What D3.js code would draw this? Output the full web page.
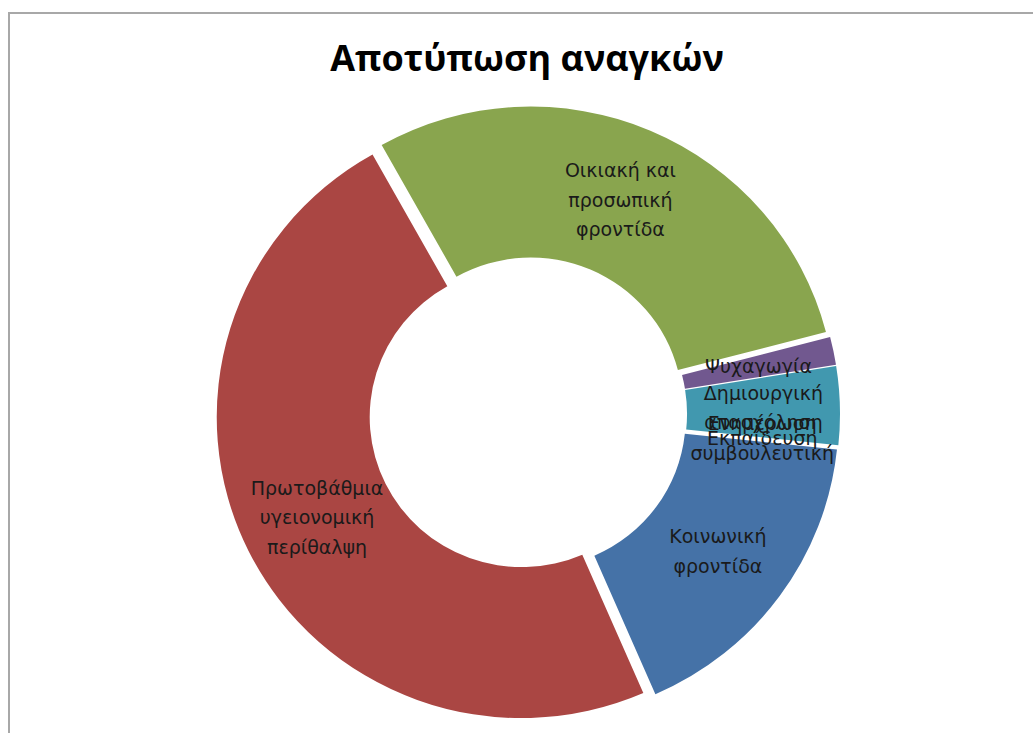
<!DOCTYPE html>
<html>
<head>
<meta charset="utf-8">
<script src="https://cdn.jsdelivr.net/npm/d3@7"></script>
<style>
  html, body { margin: 0; padding: 0; background: #ffffff; }
  svg { display: block; }
</style>
</head>
<body>
<svg id="chart" width="1033" height="733"></svg>
<script>
// ---- data ----
const title = "Αποτύπωση αναγκών";
const categories = [
  "Κοινωνική φροντίδα",
  "Πρωτοβάθμια υγειονομική περίθαλψη",
  "Οικιακή και προσωπική φροντίδα",
  "Ψυχαγωγία",
  "Δημιουργική απασχόληση",
  "Ενημέρωση συμβουλευτική",
  "Εκπαίδευση"
];
const values = [16.8, 48.4, 29.1, 1.5, 4.2, 0, 0];
const labelLines = [
  ["Κοινωνική", "φροντίδα"],
  ["Πρωτοβάθμια", "υγειονομική", "περίθαλψη"],
  ["Οικιακή και", "προσωπική", "φροντίδα"],
  ["Ψυχαγωγία"],
  ["Δημιουργική", "απασχόληση"],
  ["Ενημέρωση", "συμβουλευτική"],
  ["Εκπαίδευση"]
];
const colors = ["#4572A7", "#AA4643", "#89A54E", "#71588F", "#4198AF", "#DB843D", "#93A9CF"];

// ---- layout ----
const W = 1033, H = 733;
const cx = 528, cy = 414;
const outerR = 301, innerR = 150;
const explode = 7;
const sx = 1.013; // slight horizontal stretch seen in reference
const firstAngle = 96 * Math.PI / 180;

const svg = d3.select("#chart");

// frame
svg.append("rect")
  .attr("x", 9).attr("y", 13)
  .attr("width", W + 20).attr("height", H + 20)
  .attr("fill", "#ffffff")
  .attr("stroke", "#a8a8a8")
  .attr("stroke-width", 2);

// title
svg.append("text")
  .attr("x", 527).attr("y", 71)
  .attr("text-anchor", "middle")
  .attr("font-family", "'Open Sans', 'Noto Sans', sans-serif")
  .attr("font-weight", "bold")
  .attr("font-size", 36)
  .attr("fill", "#000")
  .text(title);

const pie = d3.pie()
  .sort(null)
  .value(d => d)
  .startAngle(firstAngle)
  .endAngle(firstAngle + 2 * Math.PI);

const arcs = pie(values).map((a, i) => Object.assign(a, { i }));
const arc = d3.arc().innerRadius(innerR).outerRadius(outerR);

const g = svg.append("g")
  .attr("transform", `translate(${cx},${cy}) scale(${sx},1)`);

g.selectAll("path.slice")
  .data(arcs.filter(a => a.value > 0))
  .join("path")
  .attr("class", "slice")
  .attr("d", arc)
  .attr("fill", d => colors[d.i])
  .attr("transform", d => {
    const m = (d.startAngle + d.endAngle) / 2;
    return `translate(${explode * Math.sin(m)},${-explode * Math.cos(m)})`;
  });

// labels
const labelR = (outerR + innerR) / 2 + explode;
const lineH = 29.5;
const lg = svg.append("g").attr("transform", `translate(${cx},${cy})`);
arcs.forEach(a => {
  const m = (a.startAngle + a.endAngle) / 2;
  const x = labelR * Math.sin(m) * sx;
  const y = -labelR * Math.cos(m);
  const lines = labelLines[a.i];
  const t = lg.append("text")
    .attr("text-anchor", "middle")
    .attr("font-family", "'DejaVu Sans', sans-serif")
    .attr("font-size", 19)
    .attr("fill", "#1a1a1a");
  lines.forEach((ln, k) => {
    t.append("tspan")
      .attr("x", x)
      .attr("y", y + (k - (lines.length - 1) / 2) * lineH)
      .attr("dy", "0.35em")
      .text(ln);
  });
});
</script>
</body>
</html>
